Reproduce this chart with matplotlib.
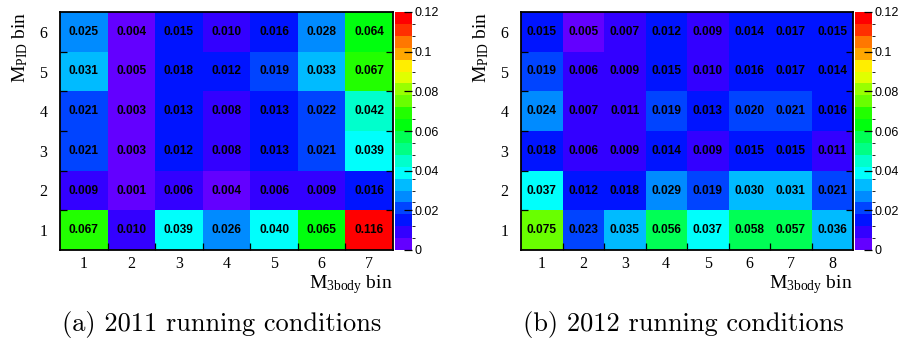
import colorsys
import numpy as np
import matplotlib
matplotlib.use("Agg")
import matplotlib.pyplot as plt
from matplotlib.colors import ListedColormap, BoundaryNorm

W, H = 906, 347

# M_PID bins (rows, bottom to top) x M_3body bins (columns)
mpid_bins = [1, 2, 3, 4, 5, 6]
m3body_bins_2011 = [1, 2, 3, 4, 5, 6, 7]
m3body_bins_2012 = [1, 2, 3, 4, 5, 6, 7, 8]

eff_2011 = [
    [0.067, 0.010, 0.039, 0.026, 0.040, 0.065, 0.116],
    [0.009, 0.001, 0.006, 0.004, 0.006, 0.009, 0.016],
    [0.021, 0.003, 0.012, 0.008, 0.013, 0.021, 0.039],
    [0.021, 0.003, 0.013, 0.008, 0.013, 0.022, 0.042],
    [0.031, 0.005, 0.018, 0.012, 0.019, 0.033, 0.067],
    [0.025, 0.004, 0.015, 0.010, 0.016, 0.028, 0.064],
]

eff_2012 = [
    [0.075, 0.023, 0.035, 0.056, 0.037, 0.058, 0.057, 0.036],
    [0.037, 0.012, 0.018, 0.029, 0.019, 0.030, 0.031, 0.021],
    [0.018, 0.006, 0.009, 0.014, 0.009, 0.015, 0.015, 0.011],
    [0.024, 0.007, 0.011, 0.019, 0.013, 0.020, 0.021, 0.016],
    [0.019, 0.006, 0.009, 0.015, 0.010, 0.016, 0.017, 0.014],
    [0.015, 0.005, 0.007, 0.012, 0.009, 0.014, 0.017, 0.015],
]

z_ticks = [0, 0.02, 0.04, 0.06, 0.08, 0.1, 0.12]
z_tick_labels = ["0", "0.02", "0.04", "0.06", "0.08", "0.1", "0.12"]
captions = ["(a) 2011 running conditions", "(b) 2012 running conditions"]

Z_MAX = 0.12
N_LEVELS = 20

SERIF = "Liberation Serif"
SANS = "Liberation Sans"

plt.rcParams["mathtext.fontset"] = "custom"
plt.rcParams["mathtext.rm"] = SERIF
plt.rcParams["mathtext.it"] = SERIF + ":italic"


def pretty_palette():
    # violet -> red hue scan, 50 colours, sampled onto the contour levels
    pal = []
    for i in range(50):
        hue = 280 - (i + 1) * 280 / 50
        pal.append(colorsys.hls_to_rgb(hue / 360, 0.5, 1.0))
    picks = [int((k + 0.99) * 50 / N_LEVELS) for k in range(N_LEVELS)]
    return ListedColormap([pal[j] for j in picks])


def px_axes(fig, x0, y0, x1, y1):
    return fig.add_axes([x0 / W, 1 - y1 / H, (x1 - x0) / W, (y1 - y0) / H])


def draw_panel(fig, frame, cbar, xbins, values, caption, cap_x):
    cmap = pretty_palette()
    norm = BoundaryNorm(np.linspace(0, Z_MAX, N_LEVELS + 1), cmap.N)
    vals = np.asarray(values)
    nx, ny = len(xbins), len(mpid_bins)

    ax = px_axes(fig, *frame)
    xe = np.arange(nx + 1) + 0.5
    ye = np.arange(ny + 1) + 0.5
    mesh = ax.pcolormesh(xe, ye, vals, cmap=cmap, norm=norm)
    for iy in range(ny):
        for ix in range(nx):
            ax.text(xbins[ix], mpid_bins[iy], f"{vals[iy, ix]:.3f}",
                    ha="center", va="center", fontsize=8.6,
                    fontweight="bold", family=SANS, color="black")
    ax.set_xlim(xe[0], xe[-1])
    ax.set_ylim(ye[0], ye[-1])

    # labels in bin centres, ticks on the bin edges
    ax.set_xticks(xbins)
    ax.set_xticklabels([str(b) for b in xbins], family=SERIF, fontsize=11.5)
    ax.set_yticks(mpid_bins)
    ax.set_yticklabels([str(b) for b in mpid_bins], family=SERIF, fontsize=11.5)
    ax.tick_params(axis="x", which="major", length=0, pad=4)
    ax.tick_params(axis="y", which="major", length=0, pad=9)
    ax.set_xticks(xe[1:-1], minor=True)
    ax.set_yticks(ye[1:-1], minor=True)
    ax.tick_params(which="minor", direction="in", length=5, width=0.9,
                   left=True, right=True, bottom=True, top=False)
    for sp in ax.spines.values():
        sp.set_linewidth(1.3)

    ax.set_xlabel(r"M$_{\mathrm{3body}}$ bin", family=SERIF, fontsize=14,
                  labelpad=0)
    ax.xaxis.set_label_coords(1.0, -0.095)
    ax.xaxis.label.set_ha("right")
    ax.set_ylabel(r"M$_{\mathrm{PID}}$ bin", family=SERIF, fontsize=14)
    ax.yaxis.set_label_coords(-0.12, 1.0)
    ax.yaxis.label.set_va("center")
    ax.yaxis.label.set_ha("right")

    cax = px_axes(fig, *cbar)
    cb = fig.colorbar(mesh, cax=cax, ticks=z_ticks)
    cb.outline.set_visible(False)
    cax.set_yticklabels(z_tick_labels, family=SANS, fontsize=9)
    cax.tick_params(direction="in", length=6, width=0.9, pad=2)

    fig.text(cap_x / W, 1 - 325 / H, caption, family="cmr10", fontsize=19,
             ha="center", va="center")


def main():
    fig = plt.figure(figsize=(W / 100, H / 100), dpi=100)
    draw_panel(fig, (60, 12, 393, 250), (395, 12, 412, 250),
               m3body_bins_2011, eff_2011, captions[0], 222)
    draw_panel(fig, (521, 12, 853, 250), (855, 12, 872, 250),
               m3body_bins_2012, eff_2012, captions[1], 683)
    fig.savefig("out.png", dpi=100)
    plt.close(fig)


if __name__ == "__main__":
    main()
